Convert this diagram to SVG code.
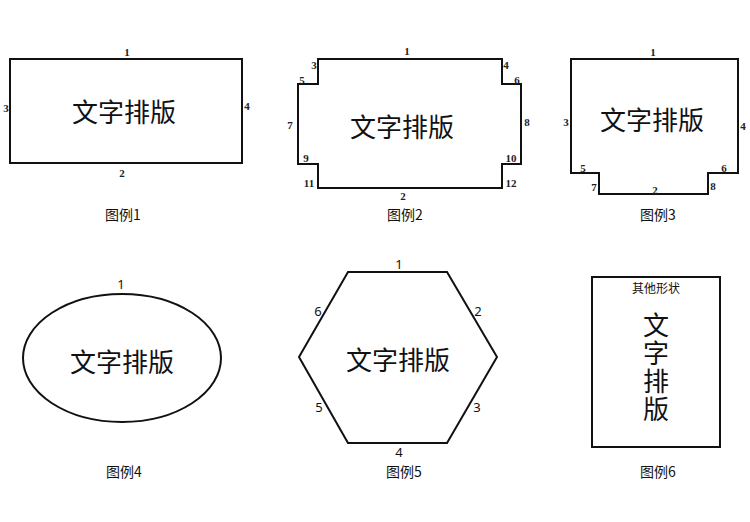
<svg xmlns="http://www.w3.org/2000/svg" width="750" height="522" viewBox="0 0 750 522">
<style>
.s{fill:none;stroke:#111;stroke-width:2;stroke-linejoin:miter}
.t{font-family:"Noto Sans CJK SC","Noto Sans",sans-serif;font-size:26px;fill:#111;text-anchor:middle;dominant-baseline:central}
.v{font-family:"Noto Sans CJK SC","Noto Sans",sans-serif;font-size:26px;fill:#111;writing-mode:tb;text-anchor:start;letter-spacing:2px}
.c{font-family:"Noto Sans CJK SC","Noto Sans",sans-serif;font-size:14px;fill:#111;text-anchor:middle;dominant-baseline:central}
.n{font-family:"Liberation Serif",serif;font-size:11px;font-weight:bold;fill:#222;text-anchor:middle;dominant-baseline:central}
.m{font-family:"Noto Sans","DejaVu Sans",sans-serif;font-size:13px;fill:#111;text-anchor:middle;dominant-baseline:central}
</style>
<rect width="750" height="522" fill="#fff"/>
<g id="fig1">
<rect class="s" x="10" y="59" width="232" height="104"/>
<text class="t" x="124" y="110">文字排版</text>
<text class="n" x="127" y="52">1</text>
<text class="n" x="122" y="173">2</text>
<text class="n" x="6" y="108">3</text>
<text class="n" x="247" y="106">4</text>
<text class="c" x="123" y="214">图例1</text>
</g>
<g id="fig2">
<polygon class="s" points="318,59 502,59 502,84 521,84 521,164 502,164 502,188 318,188 318,164 298,164 298,84 318,84"/>
<text class="t" x="402" y="125">文字排版</text>
<text class="n" x="407" y="51">1</text>
<text class="n" x="403" y="196">2</text>
<text class="n" x="314" y="65">3</text>
<text class="n" x="506" y="65">4</text>
<text class="n" x="302" y="80">5</text>
<text class="n" x="517" y="80">6</text>
<text class="n" x="290" y="125">7</text>
<text class="n" x="527" y="122">8</text>
<text class="n" x="306" y="158">9</text>
<text class="n" x="511" y="158">10</text>
<text class="n" x="309" y="183">11</text>
<text class="n" x="511" y="183">12</text>
<text class="c" x="405" y="214">图例2</text>
</g>
<g id="fig3">
<polygon class="s" points="571,59 738,59 738,173 708,173 708,194 599,194 599,173 571,173"/>
<text class="t" x="652" y="118">文字排版</text>
<text class="n" x="653" y="52">1</text>
<text class="n" x="655" y="190">2</text>
<text class="n" x="566" y="122">3</text>
<text class="n" x="743" y="126">4</text>
<text class="n" x="583" y="168">5</text>
<text class="n" x="724" y="168">6</text>
<text class="n" x="594" y="187">7</text>
<text class="n" x="713" y="186">8</text>
<text class="c" x="658" y="214">图例3</text>
</g>
<g id="fig4">
<ellipse class="s" cx="122" cy="358" rx="99" ry="64"/>
<text class="t" x="122" y="360">文字排版</text>
<text class="m" x="121" y="284">1</text>
<text class="c" x="124" y="471">图例4</text>
</g>
<g id="fig5">
<polygon class="s" points="348,272 447,272 497,357 447,443 348,443 299,357"/>
<text class="t" x="398" y="358">文字排版</text>
<text class="m" x="399" y="264">1</text>
<text class="m" x="478" y="311">2</text>
<text class="m" x="477" y="407">3</text>
<text class="m" x="399" y="452">4</text>
<text class="m" x="319" y="407">5</text>
<text class="m" x="318" y="311">6</text>
<text class="c" x="404" y="471">图例5</text>
</g>
<g id="fig6">
<rect class="s" x="592" y="277" width="128" height="170"/>
<text class="c" x="656" y="287" style="font-size:12px">其他形状</text>
<text class="v" x="656" y="312">文字排版</text>
<text class="c" x="658" y="471">图例6</text>
</g>
</svg>
